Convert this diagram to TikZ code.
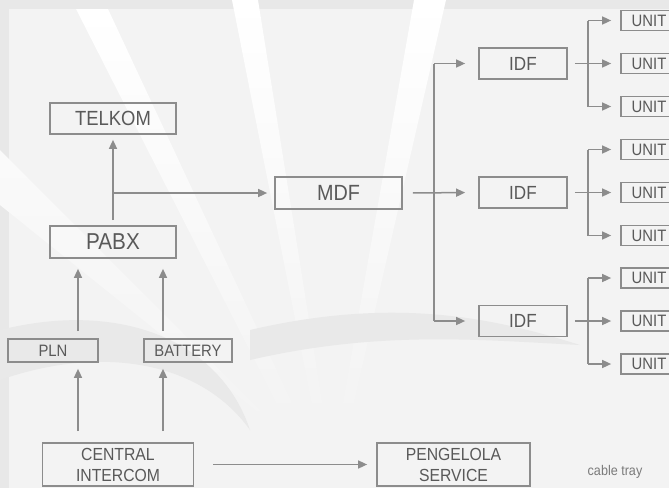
\documentclass[tikz,border=0pt]{standalone}
\usepackage{fontspec}
\setmainfont[FakeStretch=0.9]{Liberation Sans}
\usepackage{xcolor}
\usetikzlibrary{arrows.meta}

\definecolor{linegray}{HTML}{8C8C8C}
\definecolor{textgray}{HTML}{595959}
\definecolor{paper}{HTML}{F3F3F3}
\definecolor{rim}{HTML}{E8E8E8}
\definecolor{swoosh}{HTML}{E9E9E9}

\begin{document}
\begin{tikzpicture}[x=1pt, y=-1pt,
    box/.style={draw=linegray, line width=1.7pt, text=textgray, inner sep=0pt, align=center},
    arr/.style={draw=linegray, line width=1.5pt, -{Triangle[length=9pt,width=8pt]}},
    ln/.style={draw=linegray, line width=1.5pt},
    ray/.style={top color=white, bottom color=paper},
    unitbox/.style={box, minimum width=56pt, minimum height=20pt, font=\fontsize{16.5}{18}\selectfont},
    idfbox/.style={box, minimum width=88pt, minimum height=31pt, font=\fontsize{19}{22}\selectfont},
    smallbox/.style={box, minimum height=23pt, font=\fontsize{16.5}{18}\selectfont},
    twoline/.style={box, minimum width=151pt, minimum height=43pt, font=\fontsize{17.5}{21}\selectfont}]

    % paper and faint logo behind
    \useasboundingbox (0,0) rectangle (669,488);
    \fill[rim] (0,0) rectangle (669,488);
    \fill[paper] (9,9) rectangle (669,488);
    \shade[ray] (76,9) -- (108,9) -- (300,420) -- (285,420) -- cycle;
    \shade[ray] (232,0) -- (258,0) -- (325,420) -- (315,420) -- cycle;
    \shade[ray] (414,0) -- (446,0) -- (350,420) -- (340,420) -- cycle;
    \shade[ray, top color=white!60!paper] (0,150) -- (0,205) -- (280,430) -- (270,420) -- cycle;
    \fill[swoosh] (0,330) .. controls (120,300) and (220,340) .. (250,430) .. controls (200,360) and (100,345) .. (0,380) -- cycle;
    \fill[swoosh] (250,330) .. controls (400,295) and (500,320) .. (580,345) .. controls (480,340) and (380,330) .. (250,360) -- cycle;

    % switching side
    \node[box, minimum width=126pt, minimum height=31pt, font=\fontsize{20.5}{24}\selectfont] (telkom) at (113,118.5) {TELKOM};
    \node[box, minimum width=126pt, minimum height=32pt, font=\fontsize{23}{26}\selectfont] (pabx) at (113,242) {PABX};
    \node[box, minimum width=127pt, minimum height=32pt, font=\fontsize{22}{25}\selectfont] (mdf) at (338.5,193) {MDF};
    \node[smallbox, minimum width=90pt] (pln) at (53,350.5) {PLN};
    \node[smallbox, minimum width=88pt] (battery) at (188,350.5) {BATTERY};
    \node[twoline] (central) at (118,464.5) {CENTRAL\\INTERCOM};
    \node[twoline, minimum width=153pt] (service) at (453.5,464.5) {PENGELOLA\\SERVICE};
    \node[text=textgray!80, font=\fontsize{14}{16}\selectfont] (tray) at (615,472) {cable tray};

    \draw[arr, shorten <=5pt, shorten >=5pt] (pabx.north) -- (telkom.south);
    \draw[arr, shorten >=7pt] (pabx |- mdf) -- (mdf.west);

    \coordinate (pl) at (78,0);
    \coordinate (bt) at (163,0);
    \draw[arr, shorten <=7pt, shorten >=10pt] (pl |- pln.north) -- (pl |- pabx.south);
    \draw[arr, shorten <=7pt, shorten >=10pt] (bt |- battery.north) -- (bt |- pabx.south);
    \draw[arr, shorten <=11pt, shorten >=6pt] (pl |- central.north) -- (pl |- pln.south);
    \draw[arr, shorten <=11pt, shorten >=6pt] (bt |- central.north) -- (bt |- battery.south);
    \draw[arr, shorten <=19pt, shorten >=9pt] (central.east) -- (service.west);

    % distribution frames and units
    \foreach \i/\y in {1/63.5, 2/192.5, 3/321} {
        \node[idfbox] (idf\i) at (523,\y) {IDF};
        \node[unitbox] (up\i) at (649,\y-43) {UNIT};
        \node[unitbox] (mid\i) at (649,\y) {UNIT};
        \node[unitbox] (low\i) at (649,\y+43) {UNIT};
        \coordinate (br\i) at ([xshift=20pt]idf\i.east);
        \draw[arr, shorten <=7pt, shorten >=9pt] (idf\i.east) -- (mid\i.west);
        \draw[ln] (br\i |- up\i) -- (br\i |- low\i);
        \draw[arr, shorten >=9pt] (br\i |- up\i) -- (up\i.west);
        \draw[arr, shorten >=9pt] (br\i |- low\i) -- (low\i.west);
    }

    \coordinate (bus) at (434,193);
    \draw[arr, shorten <=10pt, shorten >=13pt] (mdf.east) -- (idf2.west);
    \draw[ln] (bus |- idf1) -- (bus |- idf3);
    \draw[arr, shorten >=13pt] (bus |- idf1) -- (idf1.west);
    \draw[arr, shorten >=13pt] (bus |- idf3) -- (idf3.west);
\end{tikzpicture}
\end{document}
